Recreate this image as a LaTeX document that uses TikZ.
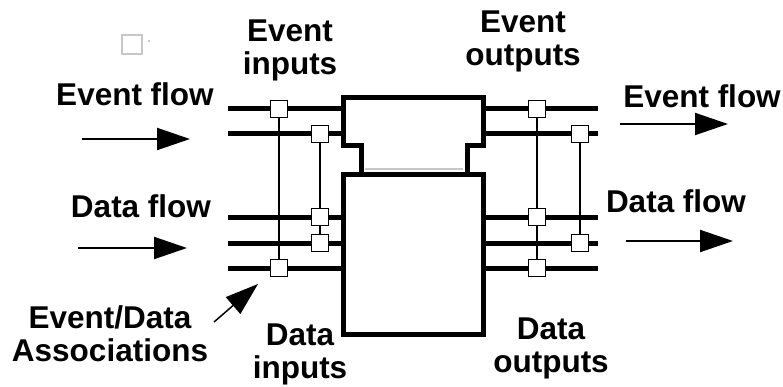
\documentclass[tikz,border=0pt]{standalone}
\usepackage{fontspec}
\setmainfont{Liberation Sans}
\usetikzlibrary{arrows.meta}
\begin{document}
\begin{tikzpicture}[x=1pt,y=-1pt,
  lbl/.style={font=\fontsize{31.5}{33}\selectfont\bfseries, inner sep=0pt, align=center, anchor=base},
  bus/.style={line width=5pt},
  block/.style={line width=5pt, line join=miter},
  link/.style={line width=1.8pt},
  port/.style={draw, line width=1.5pt, fill=white, minimum size=17pt, inner sep=0pt},
  flow/.style={line width=2pt, -{Triangle[length=33pt,width=22pt]}},
  faint/.style={draw=black!22, line width=1.5pt},
]
\useasboundingbox (0,0) rectangle (783,387);

% faint artefacts
\draw[faint] (122,35) rectangle (142,54);
\fill[black!30] (149,41) circle (1.2pt);
\draw[faint] (365,169) -- (463,169);

% block edges
\coordinate (blkL) at (343,0);
\coordinate (blkR) at (483,0);

% bus lines
\foreach \n/\y in {a/109,b/134,c/217,d/243,e/268}{
  \coordinate (in\n) at (228,\y);
  \coordinate (out\n) at (598,\y);
  \draw[bus] (in\n) -- (in\n -| blkL);
  \draw[bus] (out\n -| blkR) -- (out\n);
}

% function block outline
\draw[block] (343,98) -- (483,98) -- (483,146) -- (467,146) -- (467,175)
  -- (483,175) -- (483,334) -- (343,334) -- (343,175) -- (361,175)
  -- (361,146) -- (343,146) -- cycle;
\draw[block] (361,175) -- (467,175);

% ports (positions)
\coordinate (li1) at (279,109);
\coordinate (li2) at (320,134);
\coordinate (ld1) at (320,217);
\coordinate (ld2) at (320,243);
\coordinate (ld3) at (279,268);
\coordinate (ro1) at (537,109);
\coordinate (ro2) at (580,134);
\coordinate (rd1) at (537,217);
\coordinate (rd2) at (580,243);
\coordinate (rd3) at (537,268);

% associations
\draw[link] (li1) -- (ld3);
\draw[link] (li2) -- (ld1);
\draw[link] (ld1) -- (ld2);
\draw[link] (ro1) -- (rd1);
\draw[link] (rd1) -- (rd3);
\draw[link] (ro2) -- (rd2);

% port boxes on top
\foreach \p in {li1,li2,ld1,ld2,ld3,ro1,ro2,rd1,rd2,rd3}{
  \node[port] (box-\p) at (\p) {};
}

% flow arrows
\coordinate (fa1) at (82,139);  \coordinate (fa2) at (190,139);
\coordinate (fb1) at (78,248);  \coordinate (fb2) at (187,248);
\coordinate (fc1) at (620,124); \coordinate (fc2) at (728,124);
\coordinate (fd1) at (626,241); \coordinate (fd2) at (733,241);
\coordinate (fe1) at (214,322); \coordinate (fe2) at (258,284);
\draw[flow] (fa1) -- (fa2);
\draw[flow] (fb1) -- (fb2);
\draw[flow] (fc1) -- (fc2);
\draw[flow] (fd1) -- (fd2);
\draw[flow, line width=1.5pt] (fe1) -- (fe2);

% labels (multi-line: anchored at last baseline)
\node[lbl] (efl) at (135,106) {Event flow};
\node[lbl] (dfl) at (141,217) {Data flow};
\node[lbl] (efr) at (702,108) {Event flow};
\node[lbl] (dfr) at (676,212) {Data flow};
\node[lbl] (ein) at (290,75) {Event\\inputs};
\node[lbl] (eout) at (523,66) {Event\\outputs};
\node[lbl] (assoc) at (110,361) {Event/Data\\Associations};
\node[lbl] (din) at (300,378) {Data\\inputs};
\node[lbl] (dout) at (551,372) {Data\\outputs};
\end{tikzpicture}
\end{document}
